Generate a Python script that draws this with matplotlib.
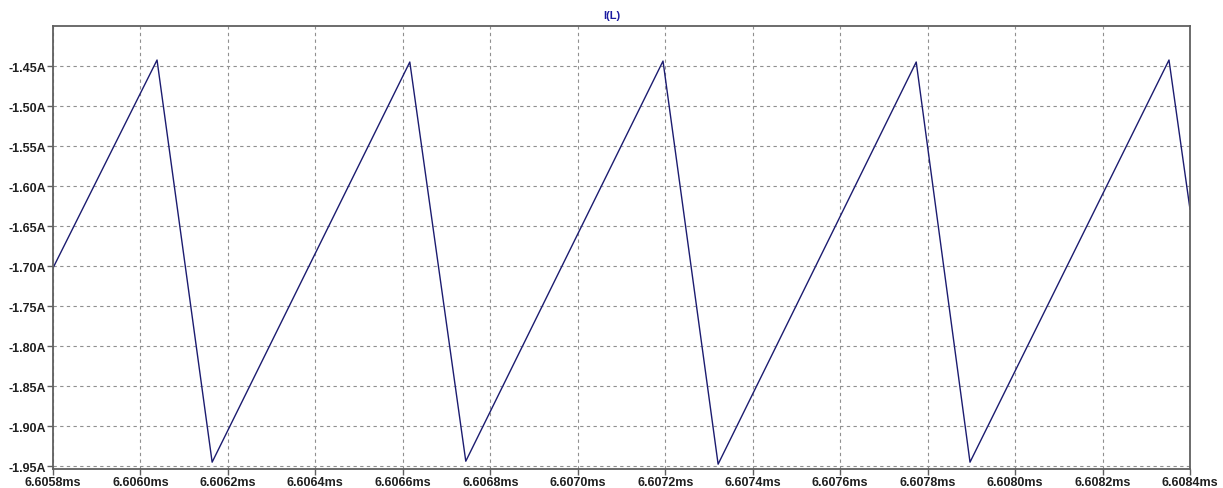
import matplotlib
matplotlib.use("Agg")
import matplotlib.pyplot as plt
import numpy as np

# waveform corners (time in ms, current in A)
time_ms = [6.60580, 6.606038, 6.606164, 6.606616, 6.606744, 6.607195,
           6.607321, 6.607774, 6.607897, 6.608352, 6.60840]
current_a = [-1.7025, -1.4425, -1.945, -1.445, -1.9438, -1.4438,
             -1.9475, -1.445, -1.945, -1.4425, -1.6288]

x_ticks = [6.6058 + 0.0002 * i for i in range(14)]
y_ticks = [-1.45, -1.50, -1.55, -1.60, -1.65, -1.70, -1.75,
           -1.80, -1.85, -1.90, -1.95]

fig = plt.figure(figsize=(12.23, 4.89), dpi=100)
ax = fig.add_axes([0.0433, 0.0389, 0.9297, 0.9059])

ax.plot(time_ms, current_a, color="#1c1c70", linewidth=1.0)

ax.set_xlim(6.6058, 6.6084)
ax.set_ylim(-1.9535, -1.40)
ax.set_xticks(x_ticks)
ax.set_xticklabels(["%.4fms" % t for t in x_ticks])
ax.set_yticks(y_ticks)
ax.set_yticklabels(["%.2fA" % v for v in y_ticks])

for lab in ax.get_xticklabels() + ax.get_yticklabels():
    lab.set_fontfamily("Liberation Sans")
    lab.set_fontweight("bold")
    lab.set_fontsize(9)
    lab.set_color("#202020")

ax.tick_params(axis="both", direction="out", length=4, width=1,
               color="#606060", pad=1)
ax.grid(True, linestyle=(0, (3, 3)), color="#909090", linewidth=0.8)

for s in ax.spines.values():
    s.set_color("#606060")
    s.set_linewidth(1.3)

fig.text(0.5005, 0.968, "I(L)", color="#1a1aa0", fontsize=8,
         fontweight="bold", ha="center", va="center",
         fontfamily="Liberation Sans")

fig.savefig("out.png", dpi=100)
